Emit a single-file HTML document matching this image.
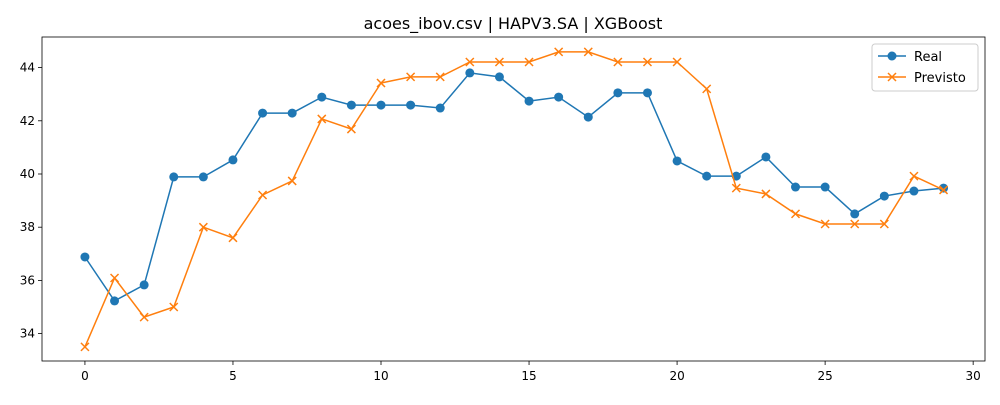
<!DOCTYPE html>
<html><head><meta charset="utf-8"><style>
body{margin:0;background:#fff;font-family:"Liberation Sans","DejaVu Sans",sans-serif}
svg text{font-family:"DejaVu Sans","Liberation Sans",sans-serif}
</style></head><body>
<svg id="chart" width="1000" height="400" xmlns="http://www.w3.org/2000/svg"></svg>
<script>
const xTicks=[0,5,10,15,20,25,30];
const yTicks=[34,36,38,40,42,44];
const realValues=[36.88,35.23,35.83,39.89,39.89,40.53,42.29,42.29,42.89,42.59,42.59,42.59,42.48,43.8,43.65,42.74,42.89,42.14,43.05,43.05,40.49,39.92,39.92,40.64,39.51,39.51,38.5,39.17,39.36,39.47];
const predValues=[33.5,36.09,34.62,35.0,38.0,37.6,39.21,39.74,42.07,41.69,43.42,43.65,43.65,44.21,44.21,44.21,44.59,44.59,44.21,44.21,44.21,43.2,39.47,39.25,38.5,38.12,38.12,38.12,39.92,39.4];
const L=42,R=985,T=37,B=361;
const xMin=-1.45,xMax=30.4,yMin=32.97,yMax=45.15;
const sx=v=>L+(v-xMin)/(xMax-xMin)*(R-L);
const sy=v=>B-(v-yMin)/(yMax-yMin)*(B-T);
const svg=document.getElementById('chart');
const NS='http://www.w3.org/2000/svg';
function mk(tag,attrs,parent){const e=document.createElementNS(NS,tag);for(const k in attrs)e.setAttribute(k,attrs[k]);(parent||svg).appendChild(e);return e;}
let t=mk('text',{x:513,y:29,'text-anchor':'middle','font-size':16,fill:'#000'});t.textContent='acoes_ibov.csv | HAPV3.SA | XGBoost';


xTicks.forEach(v=>{const g=mk('g',{});


mk('line',{x1:sx(v),x2:sx(v),y1:B,y2:B+4,stroke:'#000','stroke-width':0.8},g);
const tx=mk('text',{x:sx(v),y:B+19,'text-anchor':'middle','font-size':12},g);tx.textContent=v;});
yTicks.forEach(v=>{const g=mk('g',{});


mk('line',{x1:L-4,x2:L,y1:sy(v),y2:sy(v),stroke:'#000','stroke-width':0.8},g);
const tx=mk('text',{x:L-7,y:sy(v)+4,'text-anchor':'end','font-size':12},g);tx.textContent=v;});
function series(vals,color,name,marker){
 const g=mk('g',{});
 
 
 mk('polyline',{points:vals.map((v,i)=>sx(i)+','+sy(v)).join(' '),fill:'none',stroke:color,'stroke-width':1.5},g);
 vals.forEach((v,i)=>{let m;
  if(marker==='o')m=mk('circle',{cx:sx(i),cy:sy(v),r:4.5,fill:color},g);
  else{const x=sx(i),y=sy(v);m=mk('path',{d:`M${x-4},${y-4}L${x+4},${y+4}M${x-4},${y+4}L${x+4},${y-4}`,stroke:color,'stroke-width':1.5},g);}
  
  
 });
}
series(realValues,'#1f77b4','real','o');
series(predValues,'#ff7f0e','previsto','x');
const frame=mk('rect',{x:L,y:T,width:R-L,height:B-T,fill:'none',stroke:'#000','stroke-width':0.8});


const lg=mk('g',{});


mk('rect',{x:872,y:44,width:106,height:47,rx:3,fill:'#fff',stroke:'#ccc'},lg);
mk('line',{x1:878,x2:906,y1:56,y2:56,stroke:'#1f77b4','stroke-width':1.5},lg);
mk('circle',{cx:892,cy:56,r:4.5,fill:'#1f77b4'},lg);
let a=mk('text',{x:914,y:61,'font-size':13},lg);a.textContent='Real';
mk('line',{x1:878,x2:906,y1:77,y2:77,stroke:'#ff7f0e','stroke-width':1.5},lg);
mk('path',{d:'M888,73L896,81M888,81L896,73',stroke:'#ff7f0e','stroke-width':1.5},lg);
let b=mk('text',{x:914,y:82,'font-size':13},lg);b.textContent='Previsto';
</script>
</body></html>
